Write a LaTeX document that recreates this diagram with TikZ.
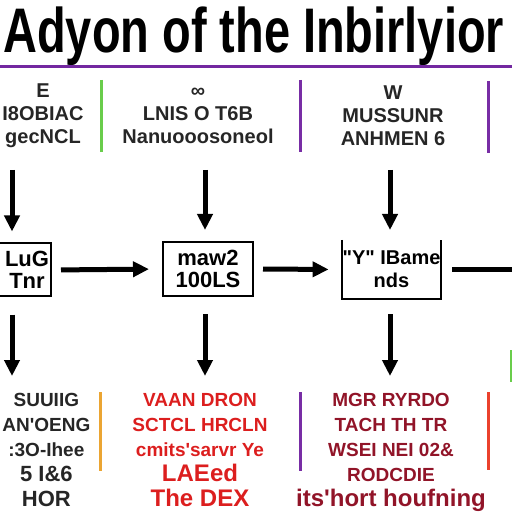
\documentclass[tikz,border=0pt]{standalone}
\usepackage{fontspec}
\setmainfont{Liberation Sans}[Ligatures=TeXOff]
\usetikzlibrary{arrows.meta}

\definecolor{rulepurple}{RGB}{115,40,160}
\definecolor{sepgreen}{RGB}{105,205,75}
\definecolor{sepviolet}{RGB}{120,45,165}
\definecolor{seporange}{RGB}{235,165,50}
\definecolor{sepred}{RGB}{235,65,45}
\definecolor{textred}{RGB}{220,30,30}
\definecolor{textmaroon}{RGB}{145,20,40}

\begin{document}
\begin{tikzpicture}[x=0.5pt,y=-0.5pt]
	\tikzstyle{head}=[inner sep=0pt,align=center,font=\bfseries\fontsize{10}{11.5}\selectfont,text=black!85]
	\tikzstyle{foot}=[inner sep=0pt,align=center,anchor=north,font=\bfseries\fontsize{9.5}{12.5}\selectfont]
	\tikzstyle{block}=[inner sep=0pt,align=center,font=\bfseries\fontsize{11}{11}\selectfont,line width=1pt]
	\tikzstyle{arr}=[line width=2.5pt,-{Triangle[width=7.5pt,length=8pt]}]
	\tikzstyle{sep}=[line width=1.5pt]

	\useasboundingbox (0,0) rectangle (512,512);

	\node[anchor=base west,inner sep=0pt](title) at (3,53){\fontsize{31.5}{32}\selectfont\bfseries\scalebox{0.745}[1]{Adyon of the Inbirlyior}};
	\draw[rulepurple,line width=1.5pt] (0,67) -- (512,67);

	\node[head,anchor=west](h0) at (2,116){E\\I8OBIAC\\gecNCL};
	\node[head](h1) at (198,116){∞\\LNIS O T6B\\Nanuooosoneol};
	\node[head](h2) at (393,116){W\\MUSSUNR\\ANHMEN 6};

	\draw[sep,sepgreen] (101,80) -- (101,152);
	\draw[sep,sepviolet] (300,80) -- (300,152);
	\draw[sep,sepviolet] (488,81) -- (488,153);

	\node[block,draw,minimum width=40pt,minimum height=26.5pt](b0) at (11,270){};
	\node[block,anchor=west](b0t) at (4,270){LuG\\Tnr};
	\node[block,draw,minimum width=45pt,minimum height=27pt](b1) at (208,269){maw2\\100LS};
	\node[block,font=\bfseries\fontsize{10}{11.5}\selectfont,minimum width=44.5pt,minimum height=28.5pt](b2) at (391.5,269.5){"Y" IBame\\nds};
	\draw[line width=1pt] (b2.north west) -- (b2.south west) -- (b2.south east) -- (b2.north east);

	\coordinate (t0) at (12,170);
	\coordinate (t1) at (205,170);
	\coordinate (t2) at (390,170);
	\draw[arr,shorten >=5.5pt] (t0) -- (t0 |- b0.north);
	\draw[arr,shorten >=5.5pt] (t1) -- (t1 |- b1.north);
	\draw[arr,shorten >=5pt] (t2) -- (t2 |- b2.north);

	\draw[arr,shorten <=4.5pt,shorten >=6.5pt] (b0.east) -- (b1.west);
	\draw[arr,shorten <=4.5pt,shorten >=6.5pt] (b1.east) -- (b2.west);
	\coordinate (e3) at (512,269.5);
	\draw[line width=2.5pt,shorten <=5.5pt] (b2.east) -- (e3);

	\coordinate (d0) at (12,376);
	\coordinate (d1) at (205,376);
	\coordinate (d2) at (390,376);
	\draw[arr,shorten <=8.5pt] (b0.south -| d0) -- (d0);
	\draw[arr,shorten <=8.5pt] (b1.south -| d1) -- (d1);
	\draw[arr,shorten <=7.5pt] (b2.south -| d2) -- (d2);

	\node[foot,anchor=north west,text=black!85](f0) at (2,393){SUUIIG\\AN'OENG\\:3O-Ihee\\{\fontsize{11}{12.5}\selectfont 5 I\&6}\\{\fontsize{11}{12.5}\selectfont HOR}};
	\node[foot,text=textred](f1) at (200,393){VAAN DRON\\SCTCL HRCLN\\cmits'sarvr Ye\\{\fontsize{12}{12.5}\selectfont LAEed}\\{\fontsize{12}{12.5}\selectfont The DEX}};
	\node[foot,text=textmaroon](f2) at (391,393){MGR RYRDO\\TACH TH TR\\WSEI NEI 02\&\\RODCDIE\\{\fontsize{12}{12.5}\selectfont its'hort houfning}};

	\draw[sep,seporange] (100,392) -- (100,471);
	\draw[sep,sepviolet] (300,392) -- (300,471);
	\draw[sep,sepred] (488,392) -- (488,470);
	\draw[sep,sepgreen] (511,350) -- (511,382);
\end{tikzpicture}
\end{document}
